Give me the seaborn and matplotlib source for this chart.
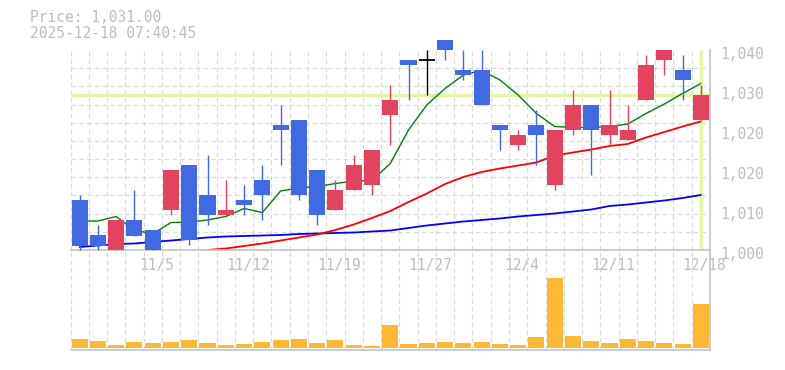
import numpy as np
import matplotlib
matplotlib.use("Agg")
import matplotlib.pyplot as plt
import seaborn as sns
from matplotlib.transforms import ScaledTranslation

# ---------------- data ----------------
open_ = [1010, 1003, 1000, 1006, 1004, 1008, 1017, 1011, 1007, 1010,
         1014, 1025, 1026, 1016, 1008, 1012, 1013, 1027, 1038, 1038,
         1042, 1036, 1036, 1025, 1021, 1025, 1013, 1024, 1029, 1023,
         1022, 1030, 1038, 1036, 1026]
high = [1011, 1005, 1006, 1012, 1004, 1016, 1017, 1019, 1014, 1013,
        1017, 1029, 1026, 1016, 1014, 1019, 1020, 1033, 1038, 1040,
        1042, 1040, 1040, 1025, 1024, 1028, 1024, 1032, 1029, 1032,
        1029, 1039, 1040, 1039, 1033]
low = [1000, 1000, 1000, 1002.8, 1000, 1007, 1001, 1005, 1007, 1007,
       1006, 1017, 1010, 1005, 1008, 1012, 1011, 1021, 1030, 1031,
       1038, 1034, 1029, 1020, 1020, 1017, 1012, 1023, 1015, 1021,
       1022, 1030, 1035, 1030, 1026]
close = [1000.8, 1000.8, 1006, 1002.8, 1000, 1016, 1002, 1007, 1008, 1009,
         1011, 1024, 1011, 1007, 1012, 1017, 1020, 1030, 1037, 1038,
         1040, 1035, 1029, 1024, 1023, 1023, 1024, 1029, 1024, 1025,
         1024, 1037, 1040, 1034, 1031]
volume = [27, 21, 9, 18, 15, 18, 24, 15, 9, 12,
          18, 24, 27, 15, 24, 9, 6, 72, 12, 15,
          18, 15, 18, 12, 9, 36, 214, 39, 21, 15,
          27, 21, 15, 12, 135]
ma_short = [1005.8, 1005.8, 1006.7, 1004.0, 1003.2, 1005.5, 1005.6, 1006.0, 1006.7, 1008.3,
            1007.5, 1011.8, 1012.4, 1012.7, 1013.3, 1013.8, 1013.9, 1017.3, 1024.0, 1029.0,
            1032.3, 1035.0, 1035.9, 1034.0, 1031.0, 1027.3, 1024.7, 1024.5, 1024.5, 1024.7,
            1025.2, 1027.3, 1029.2, 1031.3, 1033.3]
ma_mid = [np.nan] * 7 + [1000.0, 1000.3, 1000.8,
          1001.3, 1001.9, 1002.5, 1003.1, 1004.0, 1005.1, 1006.4, 1007.8, 1009.6, 1011.3,
          1013.2, 1014.6, 1015.6, 1016.3, 1016.9, 1017.5, 1018.9, 1019.5, 1020.1, 1020.8,
          1021.2, 1022.5, 1023.6, 1024.7, 1025.7]
ma_long = [1000.6, 1000.9, 1001.2, 1001.3, 1001.6, 1001.9, 1002.2, 1002.5, 1002.7, 1002.8,
           1002.9, 1003.0, 1003.2, 1003.3, 1003.4, 1003.5, 1003.7, 1003.9, 1004.4, 1004.9,
           1005.3, 1005.7, 1006.0, 1006.3, 1006.7, 1007.0, 1007.3, 1007.7, 1008.1, 1008.8,
           1009.1, 1009.5, 1009.9, 1010.4, 1011.0]
last_price = 1031
date_label_idx = [4, 9, 14, 19, 24, 29, 34]
date_labels = ["11/5", "11/12", "11/19", "11/27", "12/4", "12/11", "12/18"]
ytick_vals = [1000, 1008, 1016, 1024, 1032, 1040]
ytick_labels = ["1,000", "1,010", "1,020", "1,020", "1,030", "1,040"]
title_price = "Price: 1,031.00"
title_time = "2025-12-18 07:40:45"

# ---------------- styling ----------------
sns.set_theme(style="white")
plt.rcParams["font.family"] = ["DejaVu Sans Mono", "DejaVu Sans"]

W, H = 785, 370
fig = plt.figure(figsize=(W / 100, H / 100), dpi=100)
ax = fig.add_axes([70.5 / W, 120 / H, 639.5 / W, 200 / H])
axv = fig.add_axes([70.5 / W, 20 / H, 639.5 / W, 100 / H])
axv.set_facecolor("none")
ax.set_facecolor("none")

UP = "#e2435f"
DOWN = "#4169e1"
GRID = "#d9d9d9"
SPINE = "#c4c4c4"
TXT = "#bdbdbd"
HILITE = "#e4f5a6"

o = np.array(open_, float); c = np.array(close, float)
h = np.array(high, float); l = np.array(low, float)
n = len(o)
idx = np.arange(n)
cols = np.where(c > o, UP, np.where(c < o, DOWN, "black"))

# highlight lines (behind everything)
ax.axhline(last_price, color=HILITE, lw=2.4, zorder=1.5)
ax.axvline(idx[-1], ymin=0.01, ymax=1.0, color=HILITE, lw=2.4, zorder=1.5)

# moving averages
sns.lineplot(x=idx, y=ma_long, ax=ax, color="#0000ff", lw=1.3, zorder=2)
sns.lineplot(x=idx, y=ma_mid, ax=ax, color="#ff0000", lw=1.3, zorder=2)
sns.lineplot(x=idx, y=ma_short, ax=ax, color="#008000", lw=1.0, zorder=2)

# candles
ax.vlines(idx, l, h, colors=cols, lw=1.0, zorder=3, clip_on=False)
body_lo = np.minimum(o, c)
body_h = np.abs(c - o)
ax.bar(idx, body_h, bottom=body_lo, width=0.88, color=cols, linewidth=0,
       zorder=4, clip_on=False)
doji = c == o
ax.hlines(c[doji], idx[doji] - 0.44, idx[doji] + 0.44, colors="black",
          lw=1.3, zorder=4, clip_on=False)

ax.set_xlim(-0.5, n - 0.5)
ax.set_ylim(1000, 1040)

# volume
sns.barplot(x=idx, y=volume, ax=axv, color="#ffb833", width=0.88,
            saturation=1, linewidth=0, zorder=3)
axv.set_xlim(-0.5, n - 0.5)
vmax = max(volume)
top = vmax / 0.713
axv.set_ylim(-0.017 * top, top)

# grids / ticks
slot_edges = np.arange(n + 1) - 0.5
hgrid = 1000 + np.arange(1, 12) * 40 / 11
for a in (ax, axv):
    a.set_xlabel(""); a.set_ylabel("")
    a.set_xticks(slot_edges, minor=True)
    a.tick_params(which="both", length=0)
    for s in ("left", "top"):
        a.spines[s].set_visible(False)
    for s in ("right", "bottom"):
        a.spines[s].set_color(SPINE)
        a.spines[s].set_linewidth(1.2)
ax.set_yticks(hgrid, minor=True)
ax.grid(False, which="major")
ax.grid(True, which="minor", color=GRID, ls=(0, (4, 3)), lw=0.8)
axv.grid(False, which="major")
axv.grid(True, which="minor", axis="x", color=GRID, ls=(0, (4, 3)), lw=0.8)
axv.set_xticks([]); axv.set_yticks([])

ax.set_xticks(date_label_idx, date_labels)
ax.tick_params(axis="x", which="major", pad=6, labelsize=10.5, labelcolor=TXT)
for lab in ax.get_xticklabels():
    lab.set_transform(lab.get_transform() + ScaledTranslation(3.5 / 100, 0, fig.dpi_scale_trans))

ax.yaxis.tick_right()
ax.set_yticks(ytick_vals, ytick_labels)
ax.tick_params(axis="y", which="major", pad=7.5, labelsize=10.5, labelcolor=TXT)
for lab in ax.get_yticklabels():
    lab.set_transform(lab.get_transform() + ScaledTranslation(0, -3 / 100, fig.dpi_scale_trans))

# header
fig.text(30 / W, 1 - 17 / H, title_price, ha="left", va="center", color=TXT, fontsize=10.5)
fig.text(30 / W, 1 - 33 / H, title_time, ha="left", va="center", color=TXT, fontsize=10.5)

fig.savefig("out.png", dpi=100)
